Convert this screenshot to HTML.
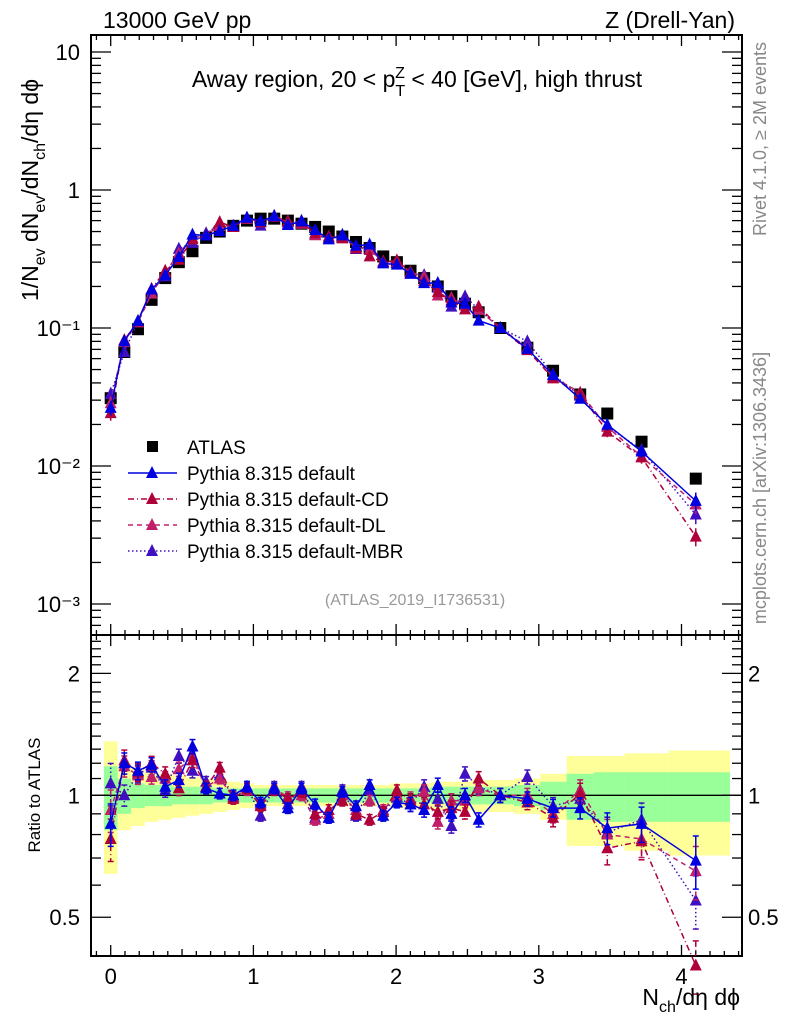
<!DOCTYPE html>
<html><head><meta charset="utf-8">
<style>
html,body{margin:0;padding:0;background:#fff;}
svg{display:block;font-family:"Liberation Sans",Arial,sans-serif;}
</style></head>
<body>
<svg id="chart" width="786" height="1024" viewBox="0 0 786 1024" xmlns="http://www.w3.org/2000/svg">
<rect x="0" y="0" width="786" height="1024" fill="#fff"/>
<g id="bands"></g>
<g id="axes"></g>
<g id="series"></g>
<g id="labels">
<text x="103" y="28" font-size="23">13000 GeV pp</text>
<text x="735" y="28" font-size="23" text-anchor="end">Z (Drell-Yan)</text>
<text x="417" y="87" font-size="23" text-anchor="middle">Away region, 20 &lt; p<tspan font-size="16" dy="9">T</tspan><tspan font-size="16" dx="-10" dy="-18">Z</tspan><tspan dy="9"> &lt; 40 [GeV], high thrust</tspan></text>
<text transform="translate(38,190) rotate(-90)" font-size="23" text-anchor="middle">1/N<tspan font-size="16" dy="7">ev</tspan><tspan dy="-7"> dN</tspan><tspan font-size="16" dy="7">ev</tspan><tspan dy="-7">/dN</tspan><tspan font-size="16" dy="7">ch</tspan><tspan dy="-7">/dη dϕ</tspan></text>
<text transform="translate(40,795) rotate(-90)" font-size="17" text-anchor="middle">Ratio to ATLAS</text>
<text x="740" y="1005" font-size="23" text-anchor="end">N<tspan font-size="16" dy="7">ch</tspan><tspan dy="-7">/dη dϕ</tspan></text>
<text transform="translate(766,139) rotate(-90)" font-size="18" fill="#888" text-anchor="middle">Rivet 4.1.0, ≥ 2M events</text>
<text transform="translate(766,488) rotate(-90)" font-size="18" fill="#888" text-anchor="middle">mcplots.cern.ch [arXiv:1306.3436]</text>
<text x="415" y="605" font-size="16" fill="#999" text-anchor="middle">(ATLAS_2019_I1736531)</text>
</g>
<g id="legend"></g>
</svg>
<script>
const xCenters = [0,0.0955,0.191,0.2865,0.382,0.4775,0.573,0.6685,0.764,0.8595,0.955,1.0505,1.146,1.2415,1.337,1.4325,1.528,1.6235,1.719,1.8145,1.91,2.0055,2.101,2.1965,2.292,2.3875,2.483,2.5785,2.73,2.92,3.10,3.29,3.48,3.72,4.10];
const atlasValues = [0.031,0.067,0.098,0.16,0.23,0.30,0.36,0.45,0.50,0.55,0.60,0.62,0.62,0.60,0.57,0.54,0.50,0.46,0.42,0.38,0.33,0.30,0.26,0.23,0.20,0.17,0.15,0.13,0.10,0.072,0.049,0.033,0.024,0.015,0.0081];
const ratioDefault = [0.85,1.20,1.15,1.19,1.05,1.09,1.32,1.04,1.01,1.00,1.05,0.96,1.04,0.93,1.04,0.95,0.88,1.02,0.94,1.06,0.89,0.96,0.95,0.92,1.06,0.90,1.00,0.87,1.00,0.98,0.93,0.93,0.83,0.85,0.69];
const ratioCD = [0.78,1.22,1.14,1.20,1.13,1.04,1.22,1.05,1.17,0.98,1.04,0.94,1.03,0.98,1.02,0.90,0.92,0.97,0.90,0.87,0.91,1.03,0.97,0.95,0.91,0.93,0.91,1.10,1.00,0.96,0.88,1.01,0.74,0.77,0.38];
const ratioDL = [0.92,1.18,1.12,1.11,1.10,1.16,1.25,1.05,1.10,0.99,1.03,0.95,1.04,0.99,1.00,0.87,0.90,1.00,0.92,0.97,0.92,1.00,0.98,1.02,0.86,0.97,0.97,1.04,1.00,1.00,0.90,1.03,0.80,0.78,0.65];
const ratioMBR = [1.07,1.00,1.13,1.17,1.03,1.25,1.15,1.08,1.12,0.99,1.05,0.89,1.05,0.95,1.05,0.88,0.88,1.03,0.89,1.03,0.91,0.99,0.95,1.05,0.98,0.84,1.13,1.05,1.00,1.11,0.94,0.98,0.81,0.87,0.55];
const mcRelErr = [0.12,0.06,0.05,0.04,0.04,0.04,0.04,0.03,0.03,0.03,0.03,0.03,0.03,0.03,0.03,0.03,0.03,0.03,0.03,0.03,0.03,0.03,0.04,0.04,0.04,0.04,0.04,0.04,0.04,0.04,0.05,0.06,0.09,0.10,0.15];
const yellowErr = [0.36,0.18,0.16,0.14,0.13,0.12,0.11,0.10,0.09,0.08,0.07,0.06,0.06,0.06,0.06,0.06,0.06,0.06,0.06,0.06,0.06,0.07,0.07,0.07,0.08,0.08,0.08,0.09,0.09,0.10,0.13,0.25,0.25,0.27,0.29];
const greenErr = [0.18,0.10,0.07,0.06,0.06,0.05,0.05,0.05,0.04,0.04,0.04,0.04,0.04,0.04,0.04,0.04,0.04,0.04,0.04,0.04,0.04,0.04,0.04,0.04,0.05,0.05,0.05,0.05,0.05,0.06,0.08,0.13,0.14,0.14,0.14];
const xTickLabels = ["0","1","2","3","4"];
const mainTickLabels = ["10","1","10\u207B\u00B9","10\u207B\u00B2","10\u207B\u00B3"];
const ratioTickLabels = ["0.5","1","2"];

const NS="http://www.w3.org/2000/svg";
const L=91,R=742,MT=35,MB=635,RT=635,RB=956;
const xS=v=>110.7+142.7*v;
const yM=v=>190-138*Math.log10(v);
const yR=v=>795.3-405*Math.log10(v);
function mk(tag,attrs,parent){const e=document.createElementNS(NS,tag);for(const k in attrs)e.setAttribute(k,attrs[k]);parent.appendChild(e);return e;}
const gB=document.getElementById('bands'),gA=document.getElementById('axes'),gS=document.getElementById('series'),gL=document.getElementById('legend');

const edges=[];
edges.push(xCenters[0]-0.0478);
for(let i=0;i<xCenters.length-1;i++)edges.push((xCenters[i]+xCenters[i+1])/2);
edges.push(4.34);
[[yellowErr,'#ffff99','yellow-band'],[greenErr,'#99ff99','green-band']].forEach(([arr,col,nm])=>{
  arr.forEach((e,i)=>{
    const x1=xS(edges[i]),x2=xS(edges[i+1]);
    const top=yR(1+e),bot=yR(1-e);
    const r=mk('rect',{x:x1,y:top,width:x2-x1,height:bot-top,fill:col},gB);
    
    
  });
});
mk('line',{x1:L,x2:R,y1:yR(1),y2:yR(1),stroke:'#000','stroke-width':1.3},gB);

[[MT,MB],[RT,RB]].forEach(([t,b],k)=>{
  const f=mk('rect',{x:L,y:t,width:R-L,height:b-t,fill:'none',stroke:'#000','stroke-width':2},gA);
  
  
});
for(let k=-1;k<=44;k++){
  const v=k/10;const x=xS(v);if(x<L+1||x>R-1)continue;
  const len=(k%10===0)?11:(k%5===0?7:5);
  [[MT,1],[MB,-1],[RT,1],[RB,-1]].forEach(([y,d])=>mk('line',{x1:x,x2:x,y1:y,y2:y+d*len,stroke:'#000','stroke-width':1.3},gA));
}
xTickLabels.forEach((s,i)=>{
  const t=mk('text',{x:xS(i),y:984,'font-size':22,'text-anchor':'middle'},gA);t.textContent=s;
  
  
});
for(let d=-4;d<=1;d++){
  for(let m=1;m<=9;m++){
    const v=m*Math.pow(10,d);const y=yM(v);if(y<MT+1||y>MB-1)continue;
    const len=m===1?20:10;
    mk('line',{x1:L,x2:L+len,y1:y,y2:y,stroke:'#000','stroke-width':1.3},gA);
    mk('line',{x1:R,x2:R-len,y1:y,y2:y,stroke:'#000','stroke-width':1.3},gA);
  }
}
mainTickLabels.forEach((s,i)=>{
  const v=Math.pow(10,1-i);
  const t=mk('text',{x:80,y:yM(v)+8,'font-size':22,'text-anchor':'end'},gA);t.textContent=s;
  
  
});
for(let k=4;k<=24;k++){
  const v=k/10;const y=yR(v);if(y<RT+1||y>RB-1)continue;
  const len=(k===5||k===10||k===20)?20:10;
  mk('line',{x1:L,x2:L+len,y1:y,y2:y,stroke:'#000','stroke-width':1.3},gA);
  mk('line',{x1:R,x2:R-len,y1:y,y2:y,stroke:'#000','stroke-width':1.3},gA);
}
ratioTickLabels.forEach(s=>{
  const v=parseFloat(s);
  const t=mk('text',{x:80,y:yR(v)+8,'font-size':22,'text-anchor':'end'},gA);t.textContent=s;
  
  
  const t2=mk('text',{x:748,y:yR(v)+8,'font-size':22},gA);t2.textContent=s;
  
  
});

const series=[
  {name:'default',r:ratioDefault,c:'#0000e0',dash:''},
  {name:'default-cd',r:ratioCD,c:'#b0003a',dash:'6,3,1,3'},
  {name:'default-dl',r:ratioDL,c:'#c0206a',dash:'5,4'},
  {name:'default-mbr',r:ratioMBR,c:'#4010c0',dash:'1.5,2.5'}
];
function tri(x,y,c,parent,nm){
  const p=mk('polygon',{points:`${x-6},${y+5} ${x+6},${y+5} ${x},${y-7}`,fill:c},parent);
  
  
}
function clipR(y){return Math.max(RT,Math.min(RB,y));}
const ga=mk('g',{},gS);


atlasValues.forEach((v,i)=>{
  const q=mk('rect',{x:xS(xCenters[i])-6,y:yM(v)-6,width:12,height:12,fill:'#000'},ga);
  
  
});
series.slice().reverse().forEach(s=>{
  const g=mk('g',{},gS);
  
  
  let pm='',pr='';
  s.r.forEach((r,i)=>{
    const v=atlasValues[i]*r;
    pm+=(i?'L':'M')+xS(xCenters[i])+','+yM(v);
    pr+=(i?'L':'M')+xS(xCenters[i])+','+yR(r);
  });
  mk('path',{d:pm,fill:'none',stroke:s.c,'stroke-width':1.5,'stroke-dasharray':s.dash},g);
  mk('path',{d:pr,fill:'none',stroke:s.c,'stroke-width':1.5,'stroke-dasharray':s.dash},g);
  s.r.forEach((r,i)=>{
    const x=xS(xCenters[i]);const e=mcRelErr[i];
    const v=atlasValues[i]*r;
    mk('line',{x1:x,x2:x,y1:yM(v*(1+e)),y2:yM(v*(1-e)),stroke:s.c,'stroke-width':1.5},g);
    mk('line',{x1:x,x2:x,y1:clipR(yR(r*(1+e))),y2:clipR(yR(r*(1-e))),stroke:s.c,'stroke-width':1.5,'stroke-dasharray':s.dash},g);
    mk('line',{x1:x-3,x2:x+3,y1:yR(r*(1+e)),y2:yR(r*(1+e)),stroke:s.c,'stroke-width':1.5},g);
    mk('line',{x1:x-3,x2:x+3,y1:yR(r*(1-e)),y2:yR(r*(1-e)),stroke:s.c,'stroke-width':1.5},g);
    tri(x,yM(v),s.c,g,'point-'+s.name);
    tri(x,yR(r),s.c,g,'ratio-point-'+s.name);
  });
});

const leg=[['ATLAS',null],['Pythia 8.315 default',series[0]],['Pythia 8.315 default-CD',series[1]],['Pythia 8.315 default-DL',series[2]],['Pythia 8.315 default-MBR',series[3]]];
leg.forEach(([lab,s],i)=>{
  const y=447+26*i;
  const g=mk('g',{},gL);
  
  
  if(!s){mk('rect',{x:147,y:y-6,width:11,height:11,fill:'#000'},g);}
  else{
    mk('line',{x1:128,x2:177,y1:y,y2:y,stroke:s.c,'stroke-width':1.5,'stroke-dasharray':s.dash},g);
    mk('polygon',{points:`${152-6},${y+5} ${152+6},${y+5} ${152},${y-7}`,fill:s.c},g);
  }
  const t=mk('text',{x:187,y:y+7,'font-size':19},g);t.textContent=lab;
});
</script>
</body></html>
